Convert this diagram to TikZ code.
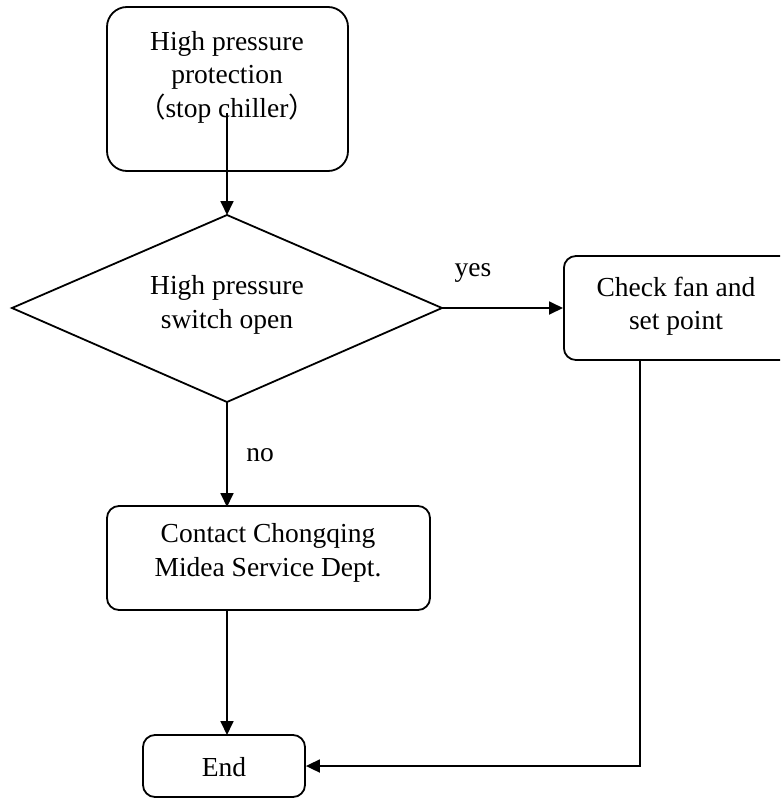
\documentclass[tikz,border=0pt]{standalone}
\usepackage{fontspec}
\setmainfont{Liberation Serif}
\newfontfamily\cjk{Noto Sans CJK SC}
\usetikzlibrary{arrows.meta}
\begin{document}
\begin{tikzpicture}[x=1pt,y=-1pt,
  box/.style={draw,line width=1.8pt,rounded corners=12pt,inner sep=0pt},
  txt/.style={align=center,font=\fontsize{27.5}{33.5}\selectfont,inner sep=0pt},
  arr/.style={line width=1.8pt,-{Triangle[length=14pt,width=13pt]}},
  ln/.style={line width=1.8pt}]
\useasboundingbox (0,0) rectangle (780,798);
\clip (0,0) rectangle (780,798);
% boxes
\node[box,rounded corners=20pt,minimum width=241pt,minimum height=164pt] (top) at (227.5,89) {};
\node[box,minimum width=228pt,minimum height=104pt,anchor=west] (chk) at (563,308) {};
\node[box,minimum width=323pt,minimum height=104pt] (cont) at (268.5,558) {};
\node[box,minimum width=162pt,minimum height=62pt] (end) at (224,766) {};
% diamond
\coordinate (dt) at (227,215);
\coordinate (dr) at (442,308);
\coordinate (db) at (227,402);
\coordinate (dl) at (12,308);
\draw[ln,line join=miter] (dt) -- (dr) -- (db) -- (dl) -- cycle;
% texts
\node[txt] (ttop) at (227,77) {High pressure\\protection\\{\cjk （}stop chiller{\cjk ）}};
\node[txt] (tdia) at (227,305) {High pressure\\switch open};
\node[txt] (tchk) at (676,306) {Check fan and\\set point};
\node[txt] (tcont) at (268,553) {Contact Chongqing\\Midea Service Dept.};
\node[txt] (tend) at (224,767) {End};
\node[txt] (yes) at (473,273) {yes};
\node[txt] (no) at (260,455) {no};
% connectors
\coordinate (ts) at (227,113);
\draw[arr] (ts) -- (dt);
\draw[arr] (dr) -- (chk.west);
\coordinate (cn) at (227,507);
\draw[arr] (db) -- (cn);
\coordinate (cs) at (227,610);
\coordinate (en) at (227,735);
\draw[arr] (cs) -- (en);
\coordinate (cf) at (640,360);
\draw[arr] (cf) |- (end.east);
\end{tikzpicture}
\end{document}
